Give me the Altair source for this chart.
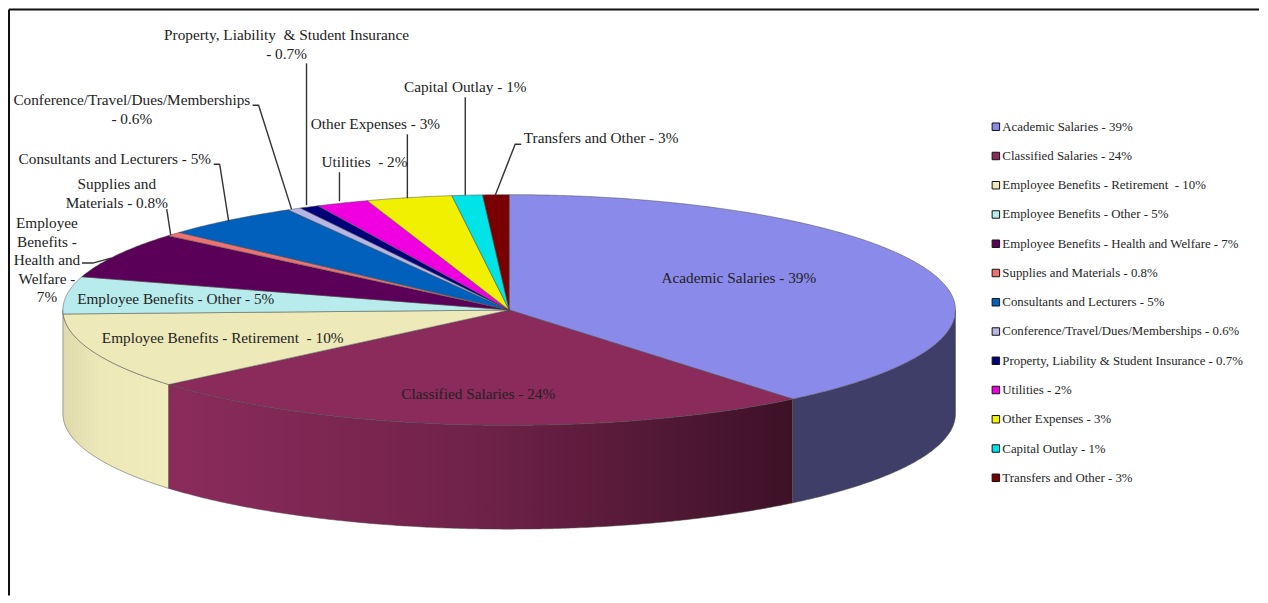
import math
import altair as alt

# ---- chart values -------------------------------------------------------
legend_labels = [
    "Academic Salaries - 39%", "Classified Salaries - 24%",
    "Employee Benefits - Retirement\u00a0 - 10%", "Employee Benefits - Other - 5%",
    "Employee Benefits - Health and Welfare - 7%", "Supplies and Materials - 0.8%",
    "Consultants and Lecturers - 5%", "Conference/Travel/Dues/Memberships - 0.6%",
    "Property, Liability & Student Insurance - 0.7%", "Utilities - 2%",
    "Other Expenses - 3%", "Capital Outlay - 1%", "Transfers and Other - 3%",
]
# wedge sizes as drawn in the picture (percent of the full turn)
shares = [39.05, 24.76, 10.64, 5.2, 6.5, 0.6, 5.0, 0.5, 0.7, 1.9, 3.1, 1.1, 0.95]
colors = ["#8A8AEA", "#8B2B5C", "#EDE9B8", "#B8ECEC", "#5A0058", "#EE7272", "#0060BC",
          "#B6B6E8", "#000078", "#F000E0", "#F0F000", "#00E4E8", "#780000"]

# ---- text placed on and around the pie (image pixel positions) -----------
label_texts = [
    "Property, Liability\u00a0 & Student Insurance\n- 0.7%",
    "Conference/Travel/Dues/Memberships\n- 0.6%",
    "Consultants and Lecturers - 5%",
    "Supplies and\nMaterials - 0.8%",
    "Employee\nBenefits -\nHealth and\nWelfare -\n7%",
    "Employee Benefits - Other - 5%",
    "Employee Benefits - Retirement\u00a0 - 10%",
    "Classified Salaries - 24%",
    "Academic Salaries - 39%",
    "Utilities\u00a0 - 2%",
    "Other Expenses - 3%",
    "Capital Outlay - 1%",
    "Transfers and Other - 3%",
]
label_x = [286, 131, 114, 116, 46, 175, 222, 478, 739, 364, 375, 465, 601]
label_y = [34, 99, 158, 183, 222, 298, 337, 393, 277, 161, 123, 86, 137]

leaders = [
    [(306, 62), (306, 204)],
    [(252, 104), (258, 104), (291, 208)],
    [(213, 163), (219, 163), (228, 220)],
    [(166, 208), (170, 234)],
    [(81, 262), (92, 262), (110, 257)],
    [(339, 171), (339, 200)],
    [(407, 133), (407, 197)],
    [(465, 96), (465, 194)],
    [(521, 143), (515, 143), (495, 194)],
]

# ---- layout --------------------------------------------------------------
PAGE = 8
CX, CY, RX, RY, DEPTH = 509 - PAGE, 309 - PAGE, 447, 115.5, 104
W, H = 1252, 587


def pt(turn_deg, drop=0):
    a = math.radians(turn_deg)
    return [CX + RX * math.sin(a), CY - RY * math.cos(a) + drop]


def arc(a0, a1, drop=0):
    n = max(2, int(abs(a1 - a0) * 2))
    return [pt(a0 + (a1 - a0) * i / n, drop) for i in range(n + 1)]


def feature(ring, **props):
    ring = ring + [ring[0]]
    return {"type": "Feature", "properties": props,
            "geometry": {"type": "Polygon", "coordinates": [ring]}}


proj = dict(type="identity", scale=1, translate=[0, 0])

# top face: one wedge per share
total = sum(shares)
edges = [0.0]
for s in shares:
    edges.append(edges[-1] + s / total * 360)
wedges = [feature([[CX, CY]] + arc(edges[i], edges[i + 1]), label=legend_labels[i])
          for i in range(len(shares))]

top = (
    alt.Chart(alt.Data(values=wedges))
    .mark_geoshape(stroke="#4a4a4a", strokeWidth=0.5)
    .encode(
        color=alt.Color(
            "properties.label:N",
            scale=alt.Scale(domain=legend_labels, range=colors),
            sort=None,
            legend=alt.Legend(
                title=None, orient="none", legendX=982, legendY=111,
                symbolType="square", symbolSize=56, symbolStrokeColor="#111111",
                symbolStrokeWidth=1, symbolOpacity=1,
                labelFont="Liberation Serif", labelFontSize=12.9, labelColor="#262626",
                labelLimit=400, labelOffset=0, rowPadding=15.3, columns=1,
            ),
        )
    )
    .project(**proj)
)


def side(a0, a1, stops):
    ring = arc(a0, a1) + arc(a1, a0, DEPTH)
    grad = alt.LinearGradient(
        gradient="linear", x1=0, x2=1, y1=0, y2=0,
        stops=[alt.GradientStop(color=c, offset=o) for o, c in stops],
    )
    return (
        alt.Chart(alt.Data(values=[feature(ring, label="side")]))
        .mark_geoshape(fill=grad, stroke="#4a4a4a", strokeWidth=0.5)
        .project(**proj)
    )


sides = [
    side(edges[2], 270, [(0, "#DEDAAC"), (0.35, "#ECE8B8"), (1, "#F0ECBB")]),
    side(edges[1], edges[2], [(0, "#8B2B5C"), (0.5, "#6F2249"), (1, "#3D1126")]),
    side(90, edges[1], [(0, "#3E3E68"), (1, "#3E3E68")]),
]

leader_rows = []
for k, path in enumerate(leaders):
    for j, (x, y) in enumerate(path):
        leader_rows.append({"id": k, "o": j, "x": x - PAGE, "y": y - PAGE})

leader_layer = (
    alt.Chart(alt.Data(values=leader_rows))
    .mark_line(color="#333333", strokeWidth=1.4)
    .encode(
        x=alt.X("x:Q", scale=None, axis=None),
        y=alt.Y("y:Q", scale=None, axis=None),
        detail="id:N",
        order="o:Q",
    )
)

text_rows = [{"t": t, "x": x - PAGE, "y": y - PAGE}
             for t, x, y in zip(label_texts, label_x, label_y)]
text_layer = (
    alt.Chart(alt.Data(values=text_rows))
    .mark_text(font="Liberation Serif", fontSize=15.3, color="#222222", align="center",
               baseline="middle", lineBreak="\n", lineHeight=18.5)
    .encode(
        x=alt.X("x:Q", scale=None, axis=None),
        y=alt.Y("y:Q", scale=None, axis=None),
        text="t:N",
    )
)

frame_left = (
    alt.Chart(alt.Data(values=[{"a": 0}]))
    .mark_rule(color="#111111", strokeWidth=2)
    .encode(x=alt.value(0), y=alt.value(0), y2=alt.value(H))
)
frame_top = (
    alt.Chart(alt.Data(values=[{"a": 0}]))
    .mark_rule(color="#111111", strokeWidth=2)
    .encode(y=alt.value(0), x=alt.value(0), x2=alt.value(W))
)

chart = (
    alt.layer(*sides, top, leader_layer, text_layer, frame_left, frame_top)
    .resolve_scale(color="independent")
    .properties(width=W, height=H, padding=0, background="white")
    .configure_view(stroke=None)
)

chart.save("out.html", embed_options={"renderer": "svg", "actions": False})
